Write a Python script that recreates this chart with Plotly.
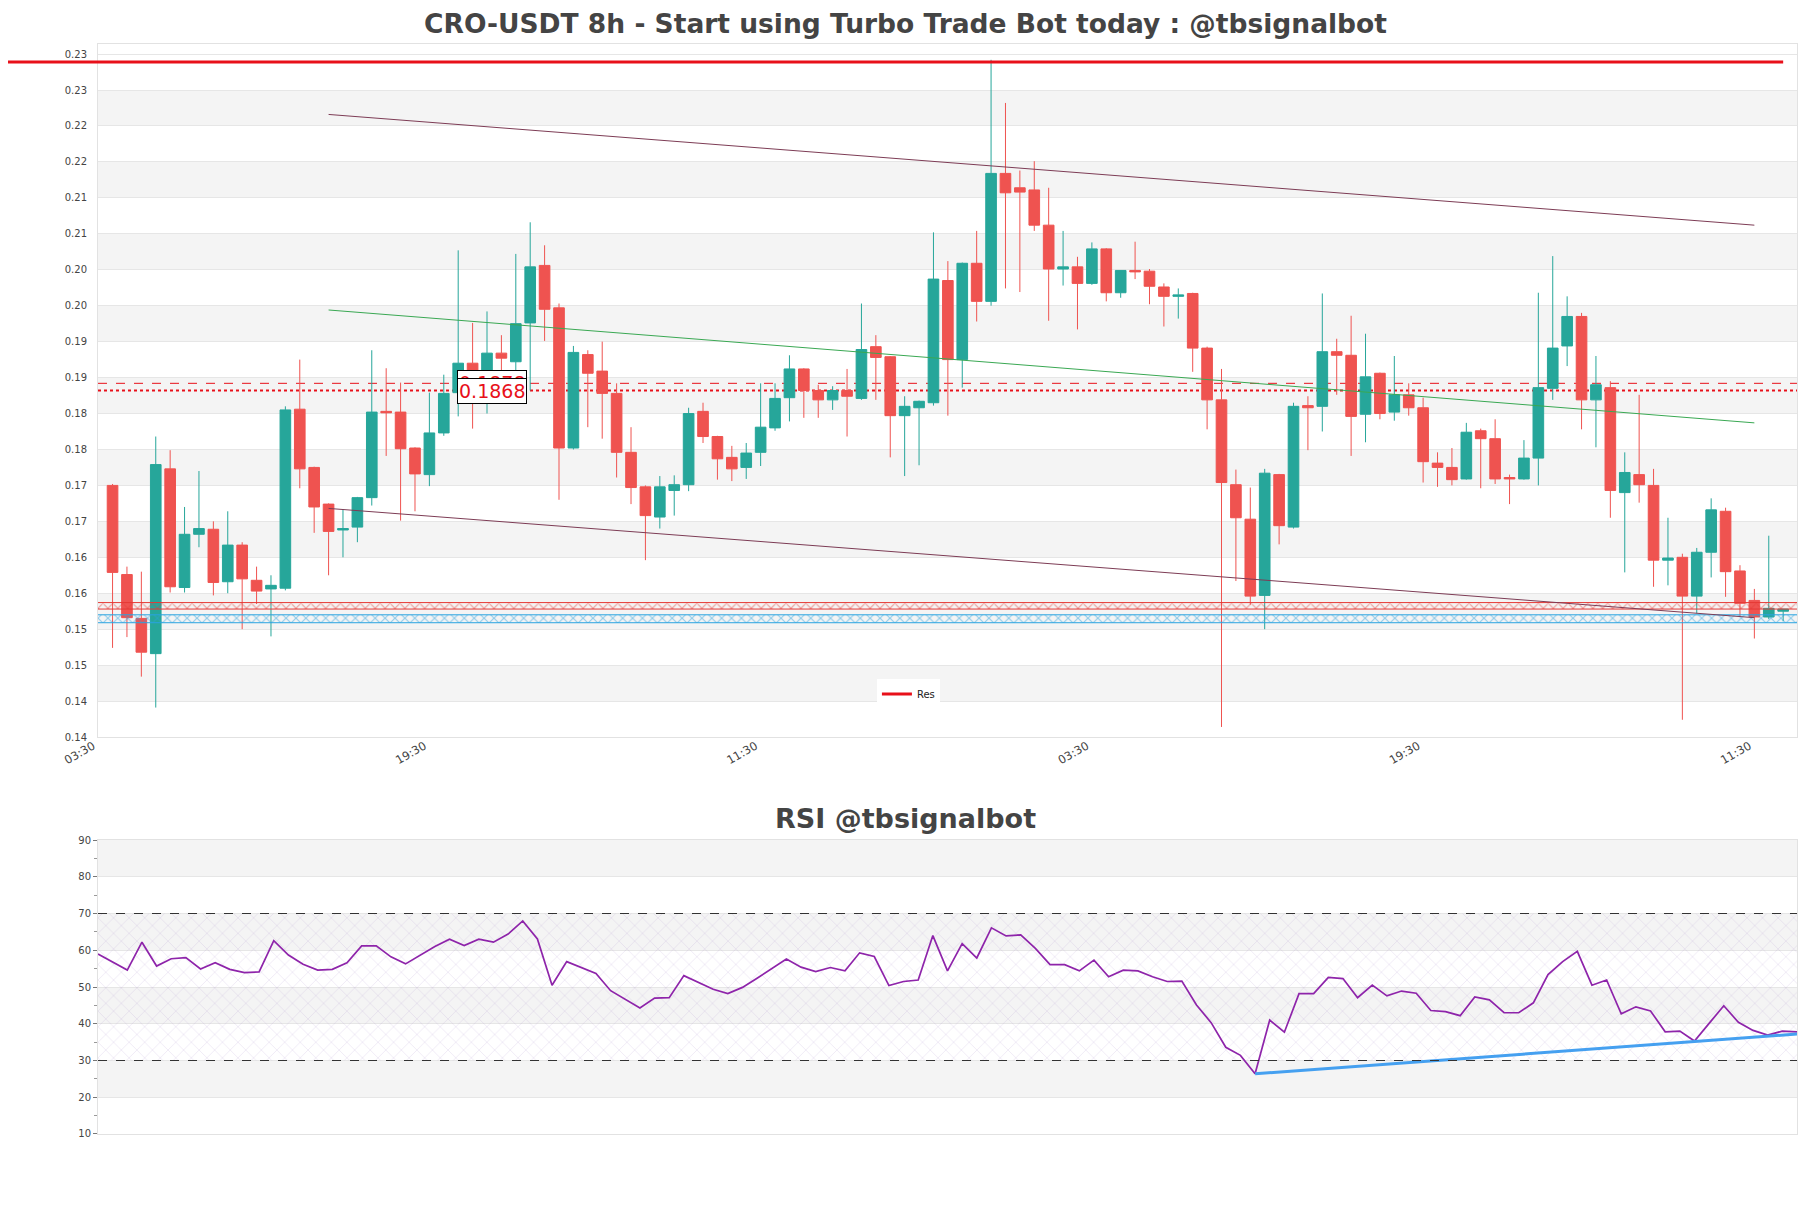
import pandas as pd
import plotly.graph_objects as go

FONT = "DejaVu Sans"

# 8h candles (CRO-USDT)
open_ = [0.1736, 0.1612, 0.1551, 0.1502, 0.1759, 0.1594, 0.1668, 0.1675, 0.1602, 0.1653,
         0.1604, 0.1592, 0.1593, 0.1842, 0.1761, 0.1710, 0.1674, 0.1678, 0.1719, 0.1839,
         0.1838, 0.1788, 0.1751, 0.1809, 0.1865, 0.1906, 0.1874, 0.1920, 0.1908, 0.1962,
         0.2042, 0.1983, 0.1788, 0.1918, 0.1895, 0.1864, 0.1782, 0.1734, 0.1692, 0.1729,
         0.1737, 0.1839, 0.1804, 0.1775, 0.1761, 0.1782, 0.1816, 0.1858, 0.1898, 0.1868,
         0.1855, 0.1868, 0.1857, 0.1929, 0.1915, 0.1833, 0.1844, 0.1851, 0.2021, 0.1911,
         0.2045, 0.1992, 0.2170, 0.2150, 0.2147, 0.2098, 0.2037, 0.2040, 0.2017, 0.2065,
         0.2004, 0.2035, 0.2034, 0.2012, 0.1999, 0.2003, 0.1927, 0.1855, 0.1737, 0.1689,
         0.1583, 0.1751, 0.1678, 0.1847, 0.1846, 0.1922, 0.1917, 0.1835, 0.1892, 0.1838,
         0.1862, 0.1844, 0.1767, 0.1761, 0.1745, 0.1812, 0.1801, 0.1747, 0.1745, 0.1774,
         0.1871, 0.1930, 0.1971, 0.1855, 0.1872, 0.1726, 0.1751, 0.1736, 0.1632, 0.1636,
         0.1582, 0.1643, 0.1700, 0.1617, 0.1576, 0.1553, 0.1561]
high = [0.1738, 0.1623, 0.1616, 0.1804, 0.1785, 0.1706, 0.1756, 0.1686, 0.1700, 0.1657,
        0.1623, 0.1611, 0.1846, 0.1911, 0.1762, 0.1711, 0.1703, 0.1720, 0.1924, 0.1899,
        0.1879, 0.1789, 0.1865, 0.1890, 0.2063, 0.1962, 0.1978, 0.1945, 0.2058, 0.2102,
        0.2070, 0.1989, 0.1930, 0.1924, 0.1936, 0.1878, 0.1817, 0.1736, 0.1749, 0.1750,
        0.1844, 0.1851, 0.1805, 0.1791, 0.1795, 0.1878, 0.1878, 0.1917, 0.1899, 0.1876,
        0.1874, 0.1898, 0.1989, 0.1945, 0.1916, 0.1860, 0.1854, 0.2088, 0.2048, 0.2046,
        0.2090, 0.2328, 0.2268, 0.2174, 0.2187, 0.2150, 0.2090, 0.2054, 0.2074, 0.2066,
        0.2035, 0.2075, 0.2037, 0.2017, 0.2010, 0.2004, 0.1929, 0.1898, 0.1758, 0.1733,
        0.1759, 0.1752, 0.1851, 0.1860, 0.2003, 0.1940, 0.1972, 0.1947, 0.1893, 0.1916,
        0.1878, 0.1858, 0.1782, 0.1788, 0.1823, 0.1815, 0.1828, 0.1751, 0.1799, 0.2004,
        0.2055, 0.1999, 0.1976, 0.1916, 0.1881, 0.1782, 0.1862, 0.1759, 0.1691, 0.1641,
        0.1649, 0.1718, 0.1705, 0.1625, 0.1592, 0.1666, 0.1564]
low = [0.1510, 0.1525, 0.1470, 0.1427, 0.1587, 0.1587, 0.1650, 0.1583, 0.1586, 0.1536,
       0.1571, 0.1526, 0.1590, 0.1732, 0.1670, 0.1611, 0.1636, 0.1657, 0.1708, 0.1777,
       0.1687, 0.1700, 0.1735, 0.1805, 0.1832, 0.1815, 0.1836, 0.1856, 0.1891, 0.1868,
       0.1937, 0.1716, 0.1786, 0.1817, 0.1801, 0.1747, 0.1710, 0.1632, 0.1676, 0.1694,
       0.1728, 0.1795, 0.1744, 0.1742, 0.1745, 0.1763, 0.1812, 0.1825, 0.1830, 0.1830,
       0.1841, 0.1804, 0.1855, 0.1855, 0.1775, 0.1749, 0.1764, 0.1847, 0.1833, 0.1872,
       0.1964, 0.1986, 0.2010, 0.2005, 0.2090, 0.1965, 0.2014, 0.1953, 0.2015, 0.1992,
       0.1997, 0.2023, 0.1988, 0.1957, 0.1968, 0.1894, 0.1814, 0.1400, 0.1603, 0.1570,
       0.1536, 0.1654, 0.1676, 0.1785, 0.1811, 0.1862, 0.1777, 0.1796, 0.1828, 0.1826,
       0.1833, 0.1740, 0.1734, 0.1736, 0.1744, 0.1732, 0.1738, 0.1710, 0.1744, 0.1736,
       0.1855, 0.1902, 0.1814, 0.1789, 0.1691, 0.1615, 0.1712, 0.1595, 0.1597, 0.1410,
       0.1558, 0.1608, 0.1581, 0.1553, 0.1523, 0.1550, 0.1547]
close = [0.1615, 0.1552, 0.1504, 0.1765, 0.1595, 0.1668, 0.1676, 0.1601, 0.1653, 0.1606,
         0.1589, 0.1597, 0.1841, 0.1759, 0.1706, 0.1672, 0.1676, 0.1719, 0.1838, 0.1837,
         0.1787, 0.1752, 0.1809, 0.1864, 0.1906, 0.1891, 0.1920, 0.1913, 0.1961, 0.2040,
         0.1981, 0.1788, 0.1921, 0.1892, 0.1864, 0.1782, 0.1733, 0.1694, 0.1734, 0.1737,
         0.1836, 0.1804, 0.1773, 0.1759, 0.1781, 0.1817, 0.1857, 0.1898, 0.1868, 0.1855,
         0.1868, 0.1860, 0.1925, 0.1914, 0.1833, 0.1846, 0.1853, 0.2023, 0.1911, 0.2045,
         0.1992, 0.2170, 0.2143, 0.2144, 0.2098, 0.2037, 0.2040, 0.2017, 0.2065, 0.2004,
         0.2035, 0.2033, 0.2013, 0.1999, 0.2001, 0.1927, 0.1855, 0.1740, 0.1691, 0.1582,
         0.1753, 0.1680, 0.1846, 0.1844, 0.1922, 0.1917, 0.1832, 0.1887, 0.1836, 0.1862,
         0.1844, 0.1769, 0.1761, 0.1744, 0.1810, 0.1801, 0.1745, 0.1745, 0.1774, 0.1872,
         0.1927, 0.1971, 0.1855, 0.1876, 0.1729, 0.1754, 0.1737, 0.1632, 0.1635, 0.1582,
         0.1643, 0.1702, 0.1616, 0.1572, 0.1553, 0.1565, 0.1564]

rsi = [59.0, 56.8, 54.6, 62.2, 55.7, 57.7, 58.0, 54.9, 56.6, 54.8,
       53.9, 54.1, 62.6, 58.7, 56.2, 54.6, 54.8, 56.6, 61.2, 61.2,
       58.2, 56.3, 58.7, 61.0, 63.0, 61.3, 63.0, 62.2, 64.4, 68.0,
       63.1, 50.5, 56.9, 55.4, 53.7, 49.0, 46.6, 44.3, 47.0, 47.1,
       53.1, 51.2, 49.4, 48.2, 49.9, 52.4, 55.1, 57.6, 55.4, 54.2,
       55.3, 54.4, 59.3, 58.3, 50.4, 51.5, 51.9, 64.0, 54.4, 61.8,
       57.9, 66.1, 63.9, 64.2, 60.5, 56.1, 56.1, 54.4, 57.3, 52.8,
       54.6, 54.4, 52.8, 51.5, 51.6, 45.1, 40.3, 33.6, 31.4, 26.4,
       41.0, 37.7, 48.2, 48.2, 52.6, 52.3, 47.1, 50.5, 47.6, 48.9,
       48.3, 43.6, 43.3, 42.2, 47.3, 46.5, 43.0, 43.0, 45.7, 53.4,
       56.9, 59.7, 50.5, 51.9, 42.7, 44.6, 43.5, 37.8, 38.0, 35.3,
       40.1, 44.9, 40.4, 38.2, 36.9, 38.0, 37.8]

# levels and trend lines (candle index, price)
res_level = 0.2325
level_dashed = 0.1878
level_dotted = 0.1868
red_zone = [0.1564, 0.1573]
blue_zone = [0.1545, 0.1556]
channel_idx = [15, 114]
channel_upper = [0.2252, 0.2098]
channel_lower = [0.1704, 0.1552]
green_line = [0.1980, 0.1823]
rsi_div_idx = [79, 116]
rsi_div = [26.4, 37.2]

UP = "#26a69a"
DOWN = "#ef5350"
RED = "#e8101a"

start = pd.Timestamp("2024-05-06 11:30")
step = pd.Timedelta(hours=8)
times = pd.date_range(start, periods=len(close), freq="8h")
x_left = start - 1.01 * step
x_right = start + 116.96 * step

fig = go.Figure()

# support/resistance zones with hatch
for zone, col in [(red_zone, "#e53935"), (blue_zone, "#29a3e0")]:
    fig.add_trace(go.Scatter(x=[x_left, x_right], y=[zone[1], zone[1]], mode="lines",
                             line=dict(color=col, width=1), showlegend=False, hoverinfo="skip"))
    fig.add_trace(go.Scatter(x=[x_left, x_right], y=[zone[0], zone[0]], mode="lines",
                             line=dict(color=col, width=1), fill="tonexty", fillcolor="rgba(0,0,0,0)",
                             fillpattern=dict(shape="x", fgcolor=col, size=7, solidity=0.3),
                             showlegend=False, hoverinfo="skip"))

# channel + trend line
chan_x = [times[i] for i in channel_idx]
for ys, col in [(channel_upper, "#7d3c55"), (channel_lower, "#7d3c55"), (green_line, "#3aa853")]:
    fig.add_trace(go.Scatter(x=chan_x, y=ys, mode="lines", line=dict(color=col, width=1),
                             showlegend=False, hoverinfo="skip"))

fig.add_trace(go.Candlestick(
    x=times, open=open_, high=high, low=low, close=close,
    increasing=dict(line=dict(color=UP, width=1), fillcolor=UP),
    decreasing=dict(line=dict(color=DOWN, width=1), fillcolor=DOWN),
    whiskerwidth=0, showlegend=False, name="CRO-USDT",
))

fig.add_trace(go.Scatter(x=[x_left, times[-1]], y=[res_level, res_level], mode="lines",
                         line=dict(color=RED, width=3), name="Res"))

# RSI panel
fig.add_trace(go.Scatter(x=[times[0], times[-1]], y=[70, 70], mode="lines", line=dict(width=0),
                         xaxis="x2", yaxis="y2", showlegend=False, hoverinfo="skip"))
fig.add_trace(go.Scatter(x=[times[0], times[-1]], y=[30, 30], mode="lines", line=dict(width=0),
                         fill="tonexty", fillcolor="rgba(0,0,0,0)",
                         fillpattern=dict(shape="x", fgcolor="rgba(150,115,190,0.7)", size=11, solidity=0.07),
                         xaxis="x2", yaxis="y2", showlegend=False, hoverinfo="skip"))
fig.add_trace(go.Scatter(x=times, y=rsi, mode="lines", line=dict(color="#8e24aa", width=1.7),
                         xaxis="x2", yaxis="y2", showlegend=False, name="RSI"))
fig.add_trace(go.Scatter(x=[times[i] for i in rsi_div_idx], y=rsi_div, mode="lines",
                         line=dict(color="#45a0f0", width=3), xaxis="x2", yaxis="y2", showlegend=False))

# background bands
shapes = []
y_tick0, y_dtick = 0.1386, 0.005
for k in range(1, 19, 2):
    shapes.append(dict(type="rect", xref="x domain", yref="y", x0=0, x1=1,
                       y0=y_tick0 + k * y_dtick, y1=y_tick0 + (k + 1) * y_dtick,
                       fillcolor="#f4f4f4", line_width=0, layer="below"))
for lo in [20, 40, 60, 80]:
    shapes.append(dict(type="rect", xref="x2 domain", yref="y2", x0=0, x1=1, y0=lo, y1=lo + 10,
                       fillcolor="#f4f4f4", line_width=0, layer="below"))
shapes.append(dict(type="line", xref="x domain", yref="y", x0=0, x1=1, y0=level_dashed, y1=level_dashed,
                   line=dict(color=RED, width=1, dash="dash"), layer="below"))
shapes.append(dict(type="line", xref="x domain", yref="y", x0=0, x1=1, y0=level_dotted, y1=level_dotted,
                   line=dict(color=RED, width=2, dash="dot"), layer="below"))
for lvl in [30, 70]:
    shapes.append(dict(type="line", xref="x2 domain", yref="y2", x0=0, x1=1, y0=lvl, y1=lvl,
                       line=dict(color="#333333", width=1.2, dash="dash")))
# resistance line overhang to the left of the plot
shapes.append(dict(type="line", xref="paper", yref="y", x0=-0.0534, x1=0, y0=res_level, y1=res_level,
                   line=dict(color=RED, width=3)))

annotations = []
label_x = times[26] + pd.Timedelta(hours=3)
for lvl in [level_dashed, level_dotted]:
    annotations.append(dict(x=label_x, y=lvl, xref="x", yref="y", text=f"{lvl:.4f}", showarrow=False,
                            font=dict(family=FONT, size=19, color=RED),
                            bgcolor="white", bordercolor="black", borderwidth=1, borderpad=1))
annotations.append(dict(x=0.4752, y=0.289, xref="paper", yref="paper", text="<b>RSI @tbsignalbot</b>",
                        showarrow=False, yanchor="middle",
                        font=dict(family=FONT, size=27, color="#444444")))

axis_line = "#e2e2e2"
fig.update_layout(
    width=1803, height=1200, autosize=False,
    margin=dict(l=90, r=14, t=36, b=74),
    paper_bgcolor="white", plot_bgcolor="white",
    font=dict(family=FONT, size=10, color="#444444"),
    boxgap=0.1, boxgroupgap=0.18,
    title=dict(text="<b>CRO-USDT 8h - Start using Turbo Trade Bot today : @tbsignalbot</b>",
               x=0.4978, xref="container", xanchor="center", y=1 - 15.5 / 1200, yref="container",
               yanchor="middle", font=dict(family=FONT, size=26.5, color="#444444")),
    xaxis=dict(type="date", anchor="y", range=[x_left, x_right], rangeslider=dict(visible=False),
               tick0=start - step, dtick=184 * 3600 * 1000, tickformat="%H:%M", tickangle=-30,
               ticklabelshift=-5, ticklabelstandoff=-3,
               showgrid=False, showline=True, linecolor=axis_line, mirror=True, zeroline=False,
               tickfont=dict(size=11.5, color="#444444")),
    yaxis=dict(domain=[0.3642, 1], anchor="x", range=[0.1386, 0.2350], tick0=y_tick0, dtick=y_dtick,
               tickformat=".2f", gridcolor="#e6e6e6", showline=True, linecolor=axis_line, mirror=True,
               zeroline=False, ticklabelstandoff=8, tickfont=dict(size=10, color="#444444")),
    xaxis2=dict(type="date", anchor="y2", range=[times[0], times[-1]], showticklabels=False,
                showgrid=False, showline=True, linecolor=axis_line, mirror=True, zeroline=False),
    yaxis2=dict(domain=[0, 0.2697], anchor="x2", range=[10, 90], dtick=10, ticks="outside", ticklen=4,
                tickcolor="#777777", gridcolor="#e6e6e6", showline=True, linecolor=axis_line, mirror=True,
                zeroline=False, tickfont=dict(size=10, color="#444444"),
                minor=dict(dtick=5, ticks="outside", ticklen=3, tickcolor="#999999", showgrid=False)),
    shapes=shapes,
    annotations=annotations,
    legend=dict(x=0.477, y=0.4037, xanchor="center", yanchor="middle", bgcolor="white",
                font=dict(size=10, color="#222222")),
    showlegend=True,
)

fig.write_html("out.html")
